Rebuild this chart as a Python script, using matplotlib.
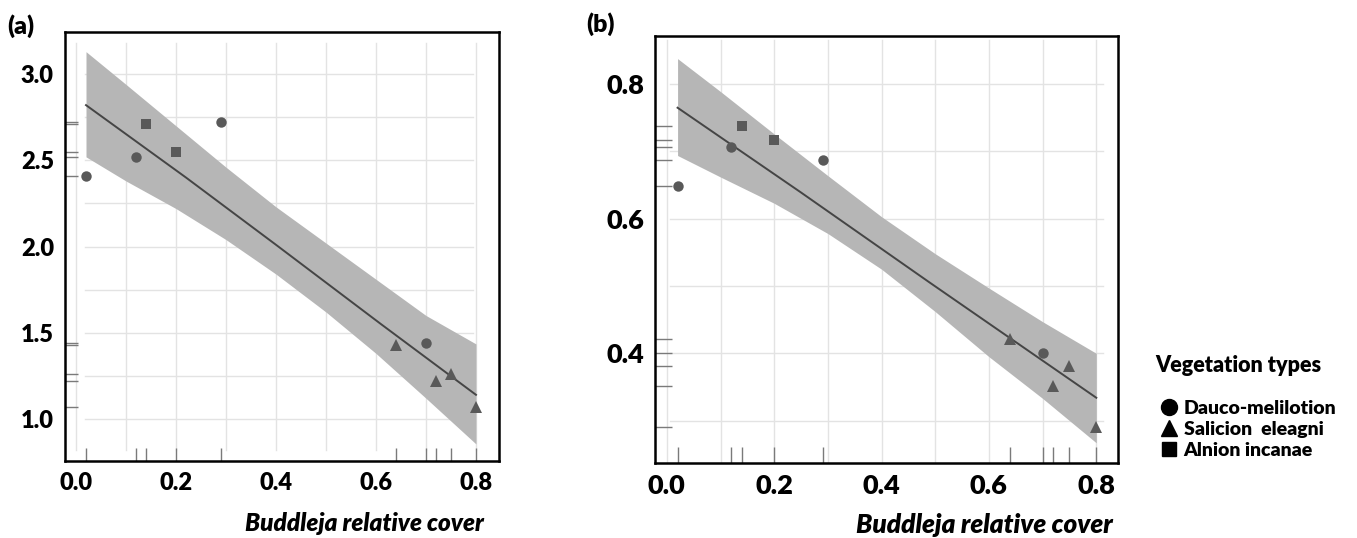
import matplotlib.pyplot as plt
from matplotlib.lines import Line2D
import numpy as np

plt.rcParams["font.family"] = ["Lato", "DejaVu Sans"]
plt.rcParams["font.weight"] = "heavy"

# ---- panel (a) ----
a_circle_x = [0.02, 0.12, 0.29, 0.70]
a_circle_y = [2.41, 2.52, 2.72, 1.44]
a_square_x = [0.14, 0.20]
a_square_y = [2.71, 2.55]
a_tri_x = [0.64, 0.72, 0.75, 0.80]
a_tri_y = [1.43, 1.22, 1.26, 1.07]
a_line_x = [0.02, 0.22, 0.40, 0.61, 0.80]
a_line_y = [2.82, 2.40, 2.01, 1.55, 1.14]
a_band_x = [0.02, 0.10, 0.20, 0.30, 0.40, 0.50, 0.60, 0.70, 0.80]
a_band_hi = [3.13, 2.94, 2.70, 2.46, 2.23, 2.02, 1.81, 1.60, 1.435]
a_band_lo = [2.52, 2.38, 2.22, 2.04, 1.84, 1.62, 1.38, 1.12, 0.855]

# ---- panel (b) ----
b_circle_x = [0.02, 0.12, 0.29, 0.70]
b_circle_y = [0.648, 0.707, 0.688, 0.401]
b_square_x = [0.14, 0.20]
b_square_y = [0.738, 0.717]
b_tri_x = [0.64, 0.72, 0.75, 0.80]
b_tri_y = [0.421, 0.351, 0.381, 0.291]
b_line_x = [0.02, 0.25, 0.49, 0.80]
b_line_y = [0.765, 0.639, 0.505, 0.334]
b_band_x = [0.02, 0.10, 0.20, 0.30, 0.40, 0.50, 0.60, 0.70, 0.80]
b_band_hi = [0.838, 0.789, 0.726, 0.664, 0.603, 0.548, 0.497, 0.447, 0.400]
b_band_lo = [0.694, 0.662, 0.623, 0.578, 0.525, 0.462, 0.395, 0.333, 0.267]

legend_labels = ["Dauco-melilotion", "Salicion  eleagni", "Alnion incanae"]

POINT = "#595959"
BAND = "#b6b6b6"
GRID = "#e3e3e3"
RUG = "#7a7a7a"


def draw_panel(ax, cx, cy, sx, sy, tx, ty, lx, ly, bx, bhi, blo,
               xlim, ylim, yticks, hgrid, hspan, vspan, rug, fsize):
    ax.set_xlim(*xlim)
    ax.set_ylim(*ylim)
    for g in np.arange(0.0, 0.81, 0.1):
        ax.axvline(g, ymin=vspan[0], ymax=vspan[1], color=GRID, lw=1, zorder=0)
    for g in hgrid:
        ax.axhline(g, xmin=hspan[0], xmax=hspan[1], color=GRID, lw=1, zorder=0)

    ax.fill_between(bx, blo, bhi, color=BAND, lw=0, zorder=1)
    ax.plot(lx, ly, color="#454545", lw=1.4, zorder=2)
    ax.plot(cx, cy, "o", color=POINT, ms=7.5, mew=0, zorder=3)
    ax.plot(sx, sy, "s", color=POINT, ms=7.5, mew=0, zorder=3)
    ax.plot(tx, ty, "^", color=POINT, ms=9, mew=0, zorder=3)

    # rugs along the axes
    all_x = cx + sx + tx
    all_y = cy + sy + ty
    ax.vlines(all_x, 0, rug, transform=ax.get_xaxis_transform(), color=RUG, lw=1)
    ax.hlines(all_y, 0, rug, transform=ax.get_yaxis_transform(), color=RUG, lw=1)

    ax.set_xticks([0.0, 0.2, 0.4, 0.6, 0.8])
    ax.set_xticklabels(["0.0", "0.2", "0.4", "0.6", "0.8"], fontweight="heavy")
    ax.set_yticks(yticks)
    ax.set_yticklabels(["%.1f" % v for v in yticks], fontweight="heavy")
    ax.tick_params(length=0, labelsize=fsize, pad=8)
    for s in ax.spines.values():
        s.set_linewidth(1.8)
        s.set_color("black")


fig = plt.figure(figsize=(13.57, 5.38), dpi=100)
ax_a = fig.add_axes([0.0479, 0.1431, 0.3198, 0.7974])
ax_b = fig.add_axes([0.4827, 0.1400, 0.3414, 0.7936])

draw_panel(ax_a, a_circle_x, a_circle_y, a_square_x, a_square_y, a_tri_x, a_tri_y,
           a_line_x, a_line_y, a_band_x, a_band_hi, a_band_lo,
           (-0.022, 0.846), (0.756, 3.244), [1.0, 1.5, 2.0, 2.5, 3.0],
           np.arange(1.0, 3.01, 0.25), (0.046, 0.94), (0.026, 0.974), 0.03, 17)
draw_panel(ax_b, b_circle_x, b_circle_y, b_square_x, b_square_y, b_tri_x, b_tri_y,
           b_line_x, b_line_y, b_band_x, b_band_hi, b_band_lo,
           (-0.022, 0.841), (0.2375, 0.872), [0.4, 0.6, 0.8],
           np.arange(0.3, 0.81, 0.1), (0.032, 0.967), (0.0, 0.99), 0.036, 19.5)

for ax, xr, fs in ((ax_a, 0.966, 17.5), (ax_b, 0.988, 18.8)):
    ax.text(xr, -0.145, "Buddleja relative cover", transform=ax.transAxes,
            ha="right", va="center", fontsize=fs, fontweight="heavy", style="italic")

fig.text(0.005, 1 - 26 / 538, "(a)", fontsize=18, fontweight="heavy", va="center", ha="left")
fig.text(0.432, 1 - 24 / 538, "(b)", fontsize=18, fontweight="heavy", va="center", ha="left")

fig.text(1155 / 1357, 1 - 365 / 538, "Vegetation types", fontsize=15.5,
         fontweight="heavy", va="center", ha="left")
handles = [Line2D([], [], ls="", marker=m, color="black", ms=ms)
           for m, ms in (("o", 11.5), ("^", 11), ("s", 10))]
fig.legend(handles, legend_labels, loc="upper left",
           bbox_to_anchor=(1159 / 1357, 1 - 400 / 538), frameon=False,
           prop={"size": 14, "weight": "heavy"}, handlelength=1.0,
           handletextpad=0.27, labelspacing=0.2, borderaxespad=0, borderpad=0)

fig.savefig("out.png", dpi=100)
